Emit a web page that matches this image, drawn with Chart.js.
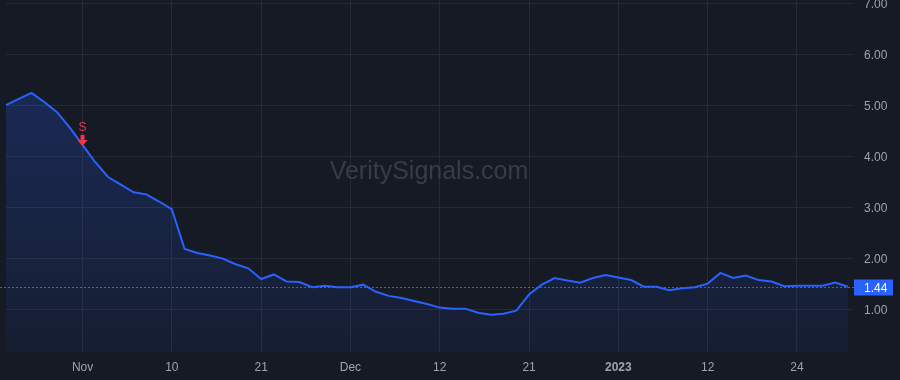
<!DOCTYPE html>
<html>
<head>
<meta charset="utf-8">
<title>Price chart</title>
<script src="https://cdn.jsdelivr.net/npm/chart.js@4.4.1/dist/chart.umd.min.js"></script>
<style>
  html, body { margin: 0; padding: 0; background: #161a25; }
  #wrap { width: 900px; height: 380px; position: relative; }
</style>
</head>
<body>
<div id="wrap"><canvas id="priceChart"></canvas></div>
<script>
// trading days shown on the chart
const dates = [
  '2022-10-24', '2022-10-25', '2022-10-26', '2022-10-27', '2022-10-28', '2022-10-31',
  '2022-11-01', '2022-11-02', '2022-11-03', '2022-11-04', '2022-11-07', '2022-11-08', '2022-11-09',
  '2022-11-10', '2022-11-11', '2022-11-14', '2022-11-15', '2022-11-16', '2022-11-17', '2022-11-18',
  '2022-11-21', '2022-11-22', '2022-11-23', '2022-11-25', '2022-11-28', '2022-11-29', '2022-11-30',
  '2022-12-01', '2022-12-02', '2022-12-05', '2022-12-06', '2022-12-07', '2022-12-08', '2022-12-09',
  '2022-12-12', '2022-12-13', '2022-12-14', '2022-12-15', '2022-12-16', '2022-12-19', '2022-12-20',
  '2022-12-21', '2022-12-22', '2022-12-23', '2022-12-27', '2022-12-28', '2022-12-29', '2022-12-30',
  '2023-01-03', '2023-01-04', '2023-01-05', '2023-01-06', '2023-01-09', '2023-01-10', '2023-01-11',
  '2023-01-12', '2023-01-13', '2023-01-17', '2023-01-18', '2023-01-19', '2023-01-20', '2023-01-23',
  '2023-01-24', '2023-01-25', '2023-01-26', '2023-01-27', '2023-01-30'
];

const prices = [
  5.00, 5.12, 5.24, 5.06, 4.86, 4.56,
  4.22, 3.88, 3.59, 3.44, 3.29, 3.25, 3.11,
  2.96, 2.18, 2.10, 2.05, 1.99, 1.88, 1.80,
  1.59, 1.68, 1.54, 1.53, 1.43, 1.46, 1.43,
  1.43, 1.48, 1.34, 1.26, 1.22, 1.16, 1.10,
  1.03, 1.01, 1.01, 0.93, 0.89, 0.91, 0.97,
  1.29, 1.48, 1.61, 1.56, 1.52, 1.61, 1.67,
  1.62, 1.57, 1.44, 1.44, 1.37, 1.41, 1.43,
  1.50, 1.71, 1.61, 1.66, 1.57, 1.54, 1.45,
  1.46, 1.46, 1.46, 1.52, 1.44
];

// x axis labels and where they sit
const tickDates = ['2022-11-01', '2022-11-10', '2022-11-21', '2022-12-01', '2022-12-12',
                   '2022-12-21', '2023-01-03', '2023-01-12', '2023-01-24'];
const tickText = ['Nov', '10', '21', 'Dec', '12', '21', '2023', '12', '24'];

const yTicks = [1, 2, 3, 4, 5, 6, 7];

// sell signal
const signalDate = '2022-11-01';
const signalText = 'S';

const lastPrice = prices[prices.length - 1];

const GRID = '#262a36';
const TEXT = '#a0a3ac';
const LINE = '#2962ff';
const RED = '#f23645';
const FONT = '"Liberation Sans", Arial, sans-serif';

function labelFor(index) {
  const pos = tickDates.indexOf(dates[index]);
  return pos === -1 ? '' : tickText[pos];
}

// watermark, price line, price tag and signal marker
const overlayPlugin = {
  id: 'overlay',
  beforeDatasetsDraw(chart) {
    const { ctx, chartArea } = chart;
    ctx.save();
    ctx.font = '25px ' + FONT;
    ctx.fillStyle = '#383c48';
    ctx.textAlign = 'center';
    ctx.textBaseline = 'middle';
    ctx.fillText('VeritySignals.com', (chartArea.left + chartArea.right) / 2 + 2, chartArea.top + chartArea.height / 2 - 4);
    ctx.restore();
  },
  afterDatasetsDraw(chart) {
    const { ctx, chartArea, scales } = chart;
    const yScale = scales.y;
    const xScale = scales.x;

    // dotted last price line
    const py = Math.round(yScale.getPixelForValue(lastPrice)) + 0.5;
    ctx.save();
    ctx.strokeStyle = LINE;
    ctx.lineWidth = 1;
    ctx.setLineDash([2, 2]);
    ctx.beginPath();
    ctx.moveTo(0, py);
    ctx.lineTo(chartArea.right + 6, py);
    ctx.stroke();
    ctx.restore();

    // price tag on the axis
    ctx.save();
    ctx.fillStyle = LINE;
    ctx.fillRect(chartArea.right + 6, py - 8, 39, 16);
    ctx.fillStyle = '#ffffff';
    ctx.font = '12px ' + FONT;
    ctx.textAlign = 'left';
    ctx.textBaseline = 'middle';
    ctx.fillText(lastPrice.toFixed(2), chartArea.right + 16, py + 1);
    ctx.restore();

    // sell marker above the line
    const si = dates.indexOf(signalDate);
    const sx = xScale.getPixelForValue(si);
    const sy = yScale.getPixelForValue(prices[si]);
    ctx.save();
    ctx.fillStyle = RED;
    ctx.font = '12px ' + FONT;
    ctx.textAlign = 'center';
    ctx.textBaseline = 'middle';
    ctx.fillText(signalText, sx, sy - 17);
    ctx.fillRect(sx - 2, sy - 10, 4, 5);
    ctx.beginPath();
    ctx.moveTo(sx - 5, sy - 5);
    ctx.lineTo(sx + 5, sy - 5);
    ctx.lineTo(sx, sy + 1);
    ctx.closePath();
    ctx.fill();
    ctx.restore();
  }
};

const canvas = document.getElementById('priceChart');
const chart = new Chart(canvas.getContext('2d'), {
  type: 'line',
  data: {
    labels: dates,
    datasets: [{
      data: prices,
      borderColor: LINE,
      borderWidth: 2,
      pointRadius: 0,
      tension: 0,
      fill: 'start',
      backgroundColor: function(context) {
        const area = context.chart.chartArea;
        if (!area) return 'rgba(41,98,255,0.2)';
        const g = context.chart.ctx.createLinearGradient(0, area.top, 0, area.bottom);
        g.addColorStop(0, 'rgba(41,98,255,0.28)');
        g.addColorStop(1, 'rgba(41,98,255,0.06)');
        return g;
      }
    }]
  },
  options: {
    responsive: true,
    maintainAspectRatio: false,
    animation: false,
    events: [],
    layout: { padding: { left: 6, top: 0, right: 0, bottom: 0 } },
    plugins: {
      legend: { display: false },
      tooltip: { enabled: false }
    },
    scales: {
      x: {
        type: 'category',
        offset: false,
        border: { display: false },
        grid: {
          color: ctx => (ctx.tick && labelFor(ctx.index) !== '') ? GRID : 'rgba(0,0,0,0)',
          drawTicks: false
        },
        ticks: {
          autoSkip: false,
          maxRotation: 0,
          padding: 8,
          color: TEXT,
          font: ctx => ({ family: FONT, size: 12, weight: (ctx.tick && ctx.tick.label === '2023') ? 'bold' : 'normal' }),
          callback: (value, index) => labelFor(index)
        },
        afterFit: scale => {
          scale.height = 28;
          scale.paddingLeft = 0;
          scale.paddingRight = 0;
        }
      },
      y: {
        position: 'right',
        min: 0.16,
        max: 7.06,
        border: { display: false },
        grid: { color: GRID, tickLength: 5 },
        ticks: {
          padding: 11,
          labelOffset: 2,
          color: TEXT,
          font: { family: FONT, size: 12 },
          callback: v => Number(v).toFixed(2)
        },
        afterBuildTicks: scale => { scale.ticks = yTicks.map(v => ({ value: v })); },
        afterFit: scale => {
          scale.width = 52;
          scale.paddingTop = 0;
          scale.paddingBottom = 0;
        }
      }
    }
  },
  plugins: [overlayPlugin]
});
</script>
</body>
</html>
